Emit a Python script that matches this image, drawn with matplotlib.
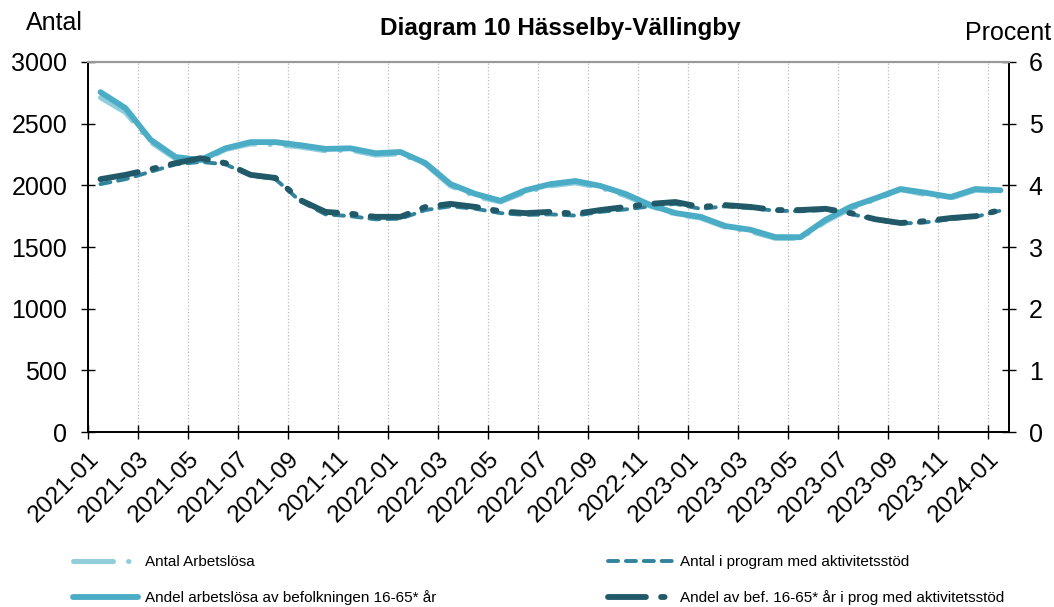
import matplotlib
matplotlib.use("Agg")
import matplotlib.pyplot as plt
import numpy as np

plt.rcParams["font.family"] = ["Liberation Sans", "DejaVu Sans"]

# monthly data, 2021-01 .. 2024-01
months = [f"{2021 + i // 12}-{i % 12 + 1:02d}" for i in range(37)]

antal_arbetslosa = [2710, 2590, 2350, 2215, 2190, 2290, 2335, 2330, 2310, 2280, 2285, 2245,
                    2255, 2170, 1995, 1910, 1865, 1945, 1995, 2020, 1980, 1915, 1830, 1765,
                    1735, 1660, 1625, 1570, 1570, 1705, 1810, 1885, 1965, 1925, 1895, 1960, 1950]
antal_program = [2010, 2050, 2110, 2170, 2190, 2170, 2080, 2050, 1870, 1765, 1750, 1725,
                 1730, 1800, 1830, 1810, 1775, 1760, 1765, 1755, 1785, 1805, 1830, 1850,
                 1810, 1830, 1815, 1795, 1790, 1800, 1770, 1720, 1690, 1700, 1725, 1745, 1795]
andel_arbetslosa = [5.51, 5.25, 4.74, 4.46, 4.41, 4.60, 4.70, 4.70, 4.65, 4.59, 4.60, 4.52,
                    4.54, 4.36, 4.02, 3.86, 3.75, 3.92, 4.02, 4.07, 3.99, 3.86, 3.68, 3.55,
                    3.49, 3.34, 3.28, 3.16, 3.16, 3.44, 3.65, 3.79, 3.94, 3.88, 3.81, 3.94, 3.92]
andel_program = [4.10, 4.17, 4.26, 4.36, 4.44, 4.36, 4.17, 4.12, 3.76, 3.57, 3.54, 3.49,
                 3.49, 3.65, 3.70, 3.65, 3.58, 3.55, 3.57, 3.54, 3.60, 3.65, 3.70, 3.73,
                 3.65, 3.68, 3.65, 3.60, 3.60, 3.62, 3.55, 3.45, 3.39, 3.42, 3.47, 3.50, 3.60]

labels = ["Antal Arbetslösa", "Andel arbetslösa av befolkningen 16-65* år",
          "Antal i program med aktivitetsstöd",
          "Andel av bef. 16-65* år i prog med aktivitetsstöd"]

C_LIGHT, C_MED, C_TEAL, C_DARK = "#92CDDC", "#4BACC6", "#31849B", "#215968"

fig = plt.figure(figsize=(10.54, 6.07), dpi=100)
ax = fig.add_axes([0.0835, 0.288, 0.874, 0.61])
ax2 = ax.twinx()

x = np.arange(len(months))
l1, = ax.plot(x, antal_arbetslosa, color=C_LIGHT, lw=3.6, dashes=(8, 3, 0.1, 3),
              dash_capstyle="round", label=labels[0])
l3, = ax.plot(x, antal_program, color=C_TEAL, lw=2.8, dashes=(2.6, 2.0),
              dash_capstyle="round", label=labels[2])
l2, = ax2.plot(x, andel_arbetslosa, color=C_MED, lw=4.2, solid_capstyle="round",
               label=labels[1])
l4, = ax2.plot(x, andel_program, color=C_DARK, lw=4.2, dashes=(6.5, 2.6, 0.6, 2.6),
               dash_capstyle="round", label=labels[3])

ax.set_xlim(-0.5, 36.35)
ax.set_ylim(0, 3000)
ax2.set_ylim(0, 6)
ax.set_yticks(np.arange(0, 3001, 500))
ax2.set_yticks(np.arange(0, 7, 1))

ticks = np.arange(0, 37, 2)
ax.set_xticks(ticks - 0.5)
ax.set_xticklabels([months[i] for i in ticks], rotation=45, ha="right",
                   rotation_mode="anchor", fontsize=17.5)
ax.tick_params(axis="x", direction="inout", length=10, width=1, pad=6)
ax.tick_params(axis="y", direction="inout", length=10, width=1, labelsize=18, pad=10)
ax2.tick_params(axis="y", direction="inout", length=10, width=1, labelsize=18, pad=9)
ax.grid(axis="x", color="#bbbbbb", ls=":", lw=0.9)

for a in (ax, ax2):
    a.spines["top"].set_color("#999999")
    a.spines["top"].set_linewidth(1.5)
    a.spines["left"].set_linewidth(1.3)
    a.spines["right"].set_linewidth(1.3)
    a.spines["bottom"].set_linewidth(1.3)

fig.text(0.532, 0.953, "Diagram 10 Hässelby-Vällingby", ha="center", va="center",
         fontsize=17.5, fontweight="bold")
fig.text(0.052, 0.962, "Antal", ha="center", va="center", fontsize=18)
fig.text(0.956, 0.945, "Procent", ha="center", va="center", fontsize=18)

leg_kw = dict(loc="lower left", frameon=False, fontsize=11, handlelength=4.3,
              labelspacing=1.4, handletextpad=0.4)
fig.legend([l1, l2], labels[:2], bbox_to_anchor=(0.056, -0.02), **leg_kw)
fig.legend([l3, l4], labels[2:], bbox_to_anchor=(0.564, -0.02), **leg_kw)

fig.savefig("out.png", dpi=100)
